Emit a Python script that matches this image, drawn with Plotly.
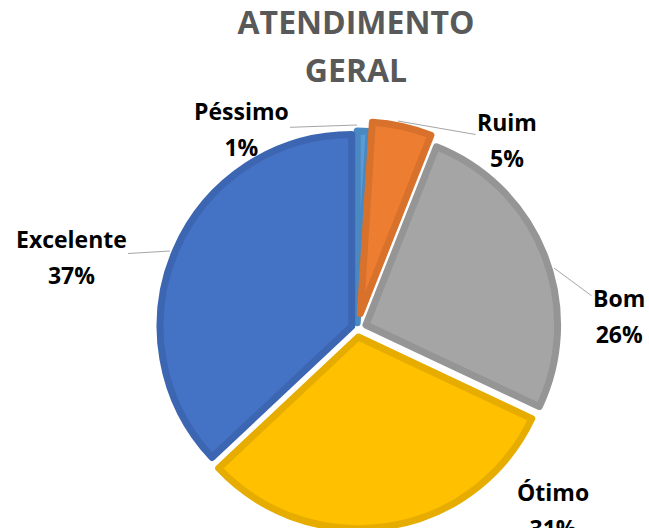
import plotly.graph_objects as go

# ---- data ----
categories = ["Péssimo", "Ruim", "Bom", "Ótimo", "Excelente"]
values = [1, 5, 26, 31, 37]
fill_colors = ["#5B9BD5", "#ED7D31", "#A5A5A5", "#FFC000", "#4472C4"]
edge_colors = ["#4A88C2", "#D8712B", "#959595", "#E6AD00", "#3D66B2"]
pulls = [0.03, 0.08, 0.05, 0.045, 0.03]
title_lines = ["ATENDIMENTO", "GERAL"]

# ---- layout geometry (pixels) ----
W, H = 649, 560
L, R, T, B = 150, 85, 121, 24
pw, ph = W - L - R, H - T - B


def px_to_paper(x, y):
    return (x - L) / pw, 1 - (y - T) / ph


fig = go.Figure(
    go.Pie(
        labels=categories,
        values=values,
        sort=False,
        direction="clockwise",
        rotation=0,
        pull=pulls,
        textinfo="none",
        hoverinfo="label+percent",
        marker=dict(colors=fill_colors, line=dict(color=edge_colors, width=7)),
        showlegend=False,
    )
)

LBL = 23
span = lambda s, size: f"<span style='font-size:{size}px'>{s}</span>"

# label text position (center, px) and leader-line target (px) or None
label_pos = {
    "Péssimo": ((241, 129), (357, 125)),
    "Ruim": ((507, 140), (398, 121)),
    "Bom": ((619, 316), (554, 268)),
    "Ótimo": ((553, 510), None),
    "Excelente": ((71, 257), (170, 251)),
}

for cat, val in zip(categories, values):
    (tx, ty), target = label_pos[cat]
    text = span(cat, LBL) + "<br>" + span(f"{val}%", LBL)
    if target is None:
        px_, py_ = px_to_paper(tx, ty)
        fig.add_annotation(x=px_, y=py_, xref="paper", yref="paper", text=text,
                           showarrow=False, xanchor="center", yanchor="middle",
                           font=dict(family="Open Sans", size=28, color="#000000", weight="bold"))
    else:
        gx, gy = px_to_paper(*target)
        fig.add_annotation(x=gx, y=gy, xref="paper", yref="paper", text=text,
                           showarrow=True, arrowhead=0, arrowwidth=1, arrowcolor="#A6A6A6",
                           ax=tx - target[0], ay=ty - target[1], standoff=0,
                           xanchor="center", yanchor="middle",
                           font=dict(family="Open Sans", size=28, color="#000000", weight="bold"))

fig.update_layout(
    width=W,
    height=H,
    margin=dict(l=L, r=R, t=T, b=B),
    paper_bgcolor="white",
    plot_bgcolor="white",
    title=dict(
        text=span(title_lines[0], 32) + "<br>" + span(title_lines[1], 32),
        x=356 / W, xanchor="center",
        y=1 - 34 / H, yanchor="top", yref="container",
        font=dict(family="Open Sans", size=37, color="#595959", weight="bold"),
    ),
)

fig.write_html(
    "out.html",
    config={"displayModeBar": False},
    post_script="document.body.style.margin='0';document.body.style.overflow='hidden';",
)
